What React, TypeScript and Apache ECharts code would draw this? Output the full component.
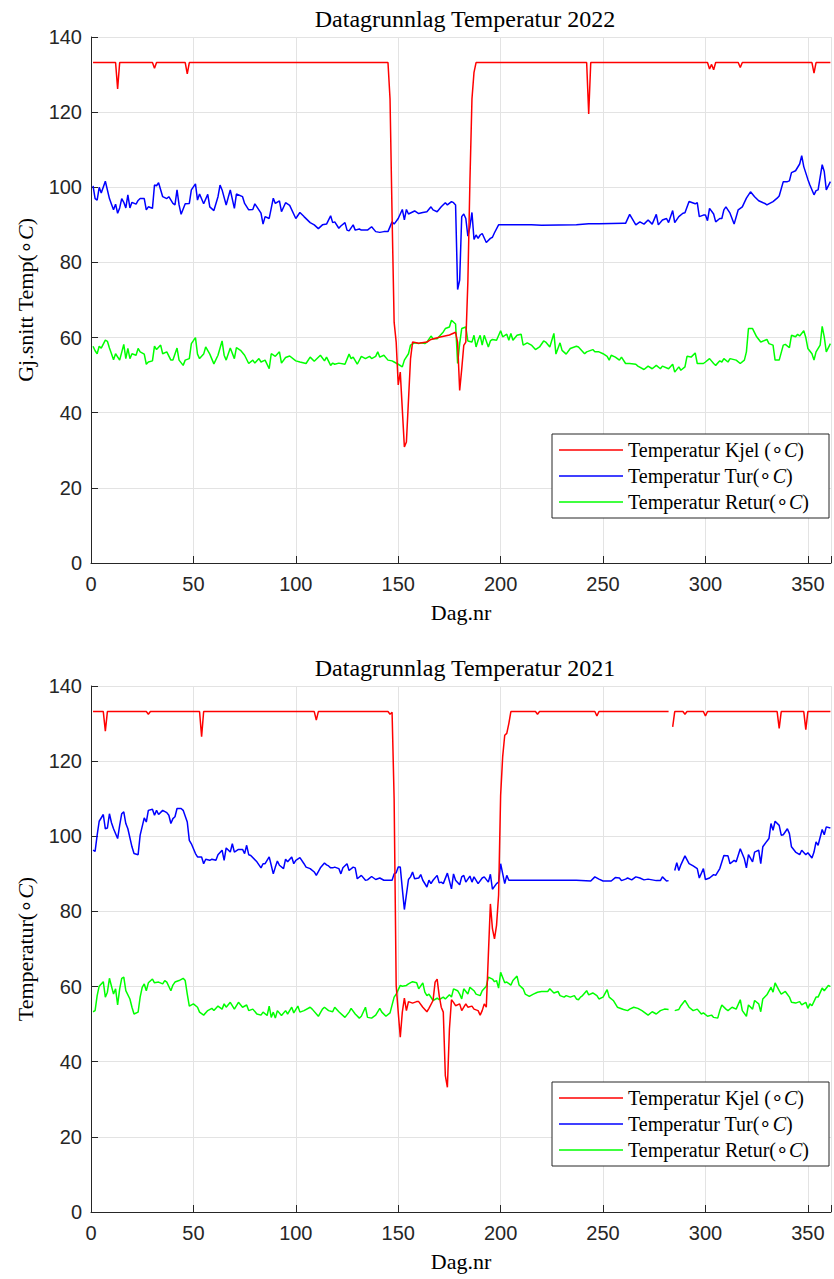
import React, { useEffect, useRef } from "react";
import * as echarts from "echarts";

// ---------- data (day number, value) ----------
const kjel2022: (number | null)[][] = [
  [1,133.2],[12,133.2],[13,126.2],[14,133.2],[30,133.2],[31,131.7],[32,133.2],[46,133.2],[47,130.2],[48,133.2],
  [145,133.2],[146,123.5],[147,92.4],[148,64.1],[149,58.8],[150,47.4],[151,50.8],[153,30.9],[154,32.2],[156,54.3],
  [157,58.8],[160,58.5],[164,58.8],[166,59.5],[170,60.1],[175,60.7],[178,61.4],[179,58.7],[180,45.9],[181,51.6],
  [182,57.9],[183,58.8],[184,74.8],[185,101.4],[186,123.5],[187,130.6],[188,133.2],[242,133.2],[243,119.5],[244,133.2],
  [301,133.2],[302,131.5],[303,132.7],[304,131.3],[305,133.2],[316,133.2],[317,131.9],[318,133.2],[352,133.2],[353,130.4],
  [354,133.2],[361,133.2]
];

const tur2022: (number | null)[][] = [
  [1,100.4],[2,97],[3,96.6],[4,100],[5,98.5],[7,101.6],[9,97],[10,95.5],[11,94],[12,95.5],[13,93.1],[14,94.5],[15,97],
  [16,96],[17,94.5],[18,98],[19,94.5],[20,96],[22,95.5],[23,96.5],[24,97],[26,97],[27,94],[28,94.8],[30,94.4],[31,100.6],
  [32,100.4],[33,101.2],[35,97.5],[37,97],[38,97.5],[40,95.7],[41,95.3],[42,99.3],[43,95.3],[44,92.8],[46,95.6],[48,95.7],
  [49,99.3],[51,100.9],[52,96.6],[53,98.2],[55,95.6],[57,98.1],[58,94.8],[60,93.8],[62,97.5],[63,100.6],[64,99.3],[66,95.3],
  [68,99.3],[70,94.4],[71,98.2],[74,97.5],[75,95.7],[77,94],[79,94.1],[80,95.6],[81,94.8],[83,93.1],[84,90.2],[85,92.2],
  [87,91.7],[89,97.1],[90,95.7],[92,96.4],[93,93.5],[95,95.9],[97,95.2],[100,91.7],[102,93.3],[104,92.2],[107,90.6],[109,90],
  [111,89],[113,90],[115,90.2],[117,92.4],[118,90.6],[119,90.8],[121,89.1],[122,89.7],[124,90.6],[125,88.6],[126,88.4],
  [128,90],[129,88.6],[131,88.9],[132,88.6],[135,88.6],[137,89.5],[139,88.2],[141,88],[143,88.2],[145,88.2],[147,90.8],
  [148,90.2],[150,91.7],[152,94.1],[153,91.3],[154,94.1],[155,92.9],[158,93.7],[160,93],[162,93.3],[164,93.5],[166,94.8],
  [167,94],[169,93.5],[171,94.8],[173,95.9],[174,95.3],[176,96.2],[177,95.9],[178,95.3],[179,72.8],[180,75.3],[181,92.2],
  [182,92.9],[183,91.7],[184,87],[185,89.5],[186,93.3],[187,86.1],[188,87.3],[189,86.4],[190,87.3],[191,87.7],[193,85.3],
  [195,86.4],[196,86.7],[197,87.9],[199,90],[215,90],[220,89.9],[237,90],[243,90.3],[248,90.3],[260,90.4],[261,90.4],
  [263,92.8],[266,90],[268,90.8],[270,90.2],[272,91.3],[274,90.2],[276,92.8],[277,90],[279,91.3],[281,91.7],[282,90.6],
  [284,93.8],[285,90.6],[287,92.2],[289,93.1],[290,93.2],[292,96.2],[295,95.6],[296,95.9],[297,92.2],[299,92.6],[300,92.6],
  [301,91.1],[302,94.4],[304,92.9],[305,90.8],[307,91.7],[308,91.7],[309,94],[310,94.8],[312,93.1],[314,90.2],[316,94],
  [318,94.8],[320,97.1],[322,98.8],[324,97.5],[326,96.4],[329,95.7],[330,95.3],[333,96.2],[335,97.1],[336,97.7],[338,101.5],
  [340,101.5],[341,101.7],[342,103.9],[344,104.4],[346,106.2],[347,108.4],[348,105.5],[350,102.1],[351,100.6],[353,98],
  [354,99.1],[355,99.3],[357,106],[358,104.2],[359,99.3],[361,101.5]
];

const retur2022: (number | null)[][] = [
  [1,57.7],[2,56.5],[3,55.7],[4,57.7],[5,57.2],[7,59.3],[8,59],[9,57.2],[10,55.7],[11,54.1],[12,55.7],[14,54],[16,58.2],
  [17,54.4],[18,57.1],[19,54.4],[20,55.7],[22,55.3],[23,57.1],[24,56.2],[26,55.6],[27,52.9],[28,53.5],[30,53.8],[31,57.7],
  [32,56.8],[34,58],[35,55.7],[37,56.2],[39,54],[40,54],[42,57.2],[43,54],[45,52.6],[46,54],[48,54.4],[49,58.4],[51,60],
  [52,55.6],[53,54.4],[55,55.6],[56,57.5],[58,55.6],[60,53],[62,55.3],[64,59.1],[65,55.3],[66,54],[68,57.2],[70,54.4],
  [71,57.3],[73,56.6],[75,55.3],[77,53.1],[79,54],[80,53.2],[82,54.4],[83,53.5],[85,54],[87,51.7],[88,55.7],[90,55],
  [92,56.2],[93,53.2],[95,54.7],[97,55.1],[100,53.8],[102,53.5],[105,53.1],[107,54.8],[109,53.7],[112,55.3],[114,53.8],
  [115,54.8],[117,52.6],[118,53.2],[119,52.9],[121,53.2],[124,52.9],[126,55.6],[127,54.4],[128,54.8],[130,52.9],[132,55],
  [134,54.4],[136,55],[137,54.4],[139,55],[140,56.2],[141,54.8],[143,55.3],[145,54],[147,53.8],[148,53.5],[150,52.9],
  [152,52.2],[153,54],[155,55.7],[156,58],[158,58.6],[160,58.4],[161,58.6],[163,58.4],[164,58.8],[166,60.4],[167,59.7],
  [169,59.7],[171,60.9],[172,61.5],[173,62.4],[175,62.8],[176,64.6],[178,63.6],[179,53.1],[180,58.4],[181,62.4],[183,62.8],
  [184,59.1],[186,58.8],[187,60.6],[188,57.5],[189,59.3],[190,60.6],[191,58],[192,60.6],[194,57.5],[195,59.1],[196,59.5],
  [198,59.3],[200,61.8],[201,60.2],[203,60.9],[204,59.3],[205,61.1],[206,59.3],[208,60.6],[210,60.9],[211,58],[213,58.6],
  [215,58],[217,56.8],[219,57.5],[221,59.1],[222,58.8],[224,57.5],[226,61.1],[227,55.6],[229,58.6],[230,56.6],[232,55.6],
  [234,57.1],[237,57.7],[238,57.5],[241,55.7],[242,56.2],[245,56.8],[246,56.2],[248,56.2],[250,55.7],[252,55],[253,54],
  [254,55.3],[256,54.8],[258,54],[259,54.8],[261,53.1],[263,53.1],[266,52.9],[267,52.4],[270,51.5],[272,52.4],[274,51.7],
  [276,52.6],[278,51.7],[279,52.4],[282,51.7],[284,52.9],[285,50.8],[287,52.2],[288,51.3],[290,52.2],[291,55],[293,54.8],
  [295,55.9],[296,53.1],[299,53.1],[300,53.5],[302,54.4],[304,53.1],[305,52.6],[307,53.8],[308,53.5],[309,54.4],[311,53.5],
  [312,54.4],[315,54],[317,53.1],[319,54],[320,56.2],[321,62.4],[323,62.4],[325,60.2],[327,58.8],[330,59.5],[331,58.4],
  [333,58],[334,54],[336,54],[338,58],[339,58.2],[341,57.3],[342,60.6],[344,60.2],[345,60.9],[346,60.4],[348,61.8],[349,60],
  [350,57.1],[352,55.7],[353,54],[354,56.2],[356,58],[357,63],[358,60.2],[359,56.2],[361,58.4]
];

const kjel2021: (number | null)[][] = [
  [1,133.2],[6,133.2],[7,128],[8,133.2],[27,133.2],[28,132.5],[29,133.2],[53,133.2],[54,126.5],[55,133.2],[109,133.2],
  [110,130.9],[111,133.2],[145,133.2],[146,132.5],[147,133],[148,110],[149,60.3],[150,53.2],[151,46.5],[152,53.2],
  [153,56.9],[154,53.6],[155,56],[157,55.6],[159,56],[160,56],[162,54.5],[164,53.3],[165,54.2],[167,56.3],[168,61.2],
  [169,62],[170,57.6],[171,54.5],[172,53.2],[173,36.3],[174,33.2],[175,48.7],[176,56.5],[177,55.8],[178,54.9],[180,55.4],
  [181,53.6],[183,55.4],[184,54.5],[186,54.8],[187,54],[189,53.6],[190,52.4],[191,53.6],[192,55.4],[193,54.5],[194,68.3],
  [195,82],[196,75.4],[197,72.7],[198,76.3],[199,84.3],[200,110.9],[201,121.2],[202,126.9],[203,127.4],[204,130],
  [205,133.2],[217,133.2],[218,132.5],[219,133.2],[246,133.2],[247,132],[248,133.2],[282,133.2],[283,null],[284,129.1],
  [285,133.2],[289,133.2],[290,132.5],[291,133.2],[299,133.2],[300,132],[301,133.2],[335,133.2],[336,128.7],[337,133.2],
  [348,133.2],[349,128.4],[350,133.2],[361,133.2]
];

const tur2021: (number | null)[][] = [
  [1,96.3],[2,96],[3,100.3],[4,104],[6,105.8],[7,102],[8,102.2],[9,106],[10,103.6],[11,102],[13,99.4],[14,102.9],[15,106],
  [16,106.5],[17,103.4],[18,102],[20,97.2],[21,95.4],[23,95.1],[24,100.3],[26,104.9],[27,103.8],[28,106.9],[30,107.2],
  [31,105.6],[32,106.9],[33,105.8],[35,106.9],[37,106.3],[38,105.6],[39,103.4],[40,104.7],[41,105.2],[42,107.4],[44,107.4],
  [45,106.9],[47,103.8],[48,98.9],[49,98],[51,95.4],[52,94.5],[54,94.5],[55,92.7],[56,93.9],[58,93.6],[59,93.9],[61,93.6],
  [62,95.1],[64,96.3],[65,93.6],[66,96.9],[68,95.8],[69,98],[70,95.8],[72,96.5],[74,96.5],[75,95.4],[76,97.6],[77,95.1],
  [78,94.9],[81,93.2],[83,91.6],[84,92.7],[85,92.7],[87,94.5],[88,92.3],[89,90],[90,91.8],[91,93.4],[92,92.3],[94,91.4],
  [95,93.9],[96,93.2],[98,94.5],[99,92.7],[100,93.6],[102,94.3],[104,92.7],[105,91.8],[107,91.4],[109,90.5],[110,89.6],
  [112,91.6],[114,92.9],[115,92.4],[116,92.1],[117,91.6],[118,91.6],[119,91.8],[121,91.4],[122,90],[123,91.6],[125,92.7],
  [126,90.9],[128,91.8],[129,91.6],[130,88.7],[132,89.6],[134,88.3],[135,88.4],[137,89.3],[139,88.5],[141,88.9],[143,88.3],
  [145,88.3],[147,88.3],[148,90],[149,90.3],[150,91.8],[151,91.8],[152,86],[153,80.5],[155,88.5],[156,89.2],[157,90.5],
  [158,88.7],[160,88.9],[161,89.8],[162,88.3],[164,86.5],[165,88.3],[166,87.4],[167,88.3],[169,89.6],[170,87.6],[171,87.8],
  [172,87.4],[174,90.2],[176,86],[177,90],[178,88.3],[180,87.1],[181,89.2],[182,89.6],[183,87.8],[185,89.4],[186,87.8],
  [187,89.2],[189,87.4],[191,88.9],[192,89.2],[194,87.8],[195,89.9],[196,85.9],[198,87.4],[199,87.8],[200,92.7],[202,87.4],
  [203,89.6],[204,88.3],[205,88.3],[237,88.3],[244,88.1],[246,89.2],[248,88.6],[250,88.1],[254,88.1],[256,89],[258,88.9],
  [259,88.2],[261,88.6],[262,88.9],[264,88.4],[266,89.2],[268,88.9],[270,88.4],[272,88.6],[276,88.2],[278,88.2],[279,89.2],
  [281,88.1],[282,88.2],[283,null],[285,90.9],[286,93],[287,90.9],[288,92.4],[290,94.8],[292,92.7],[294,92.1],[296,91.4],
  [297,88.9],[299,91.4],[300,88.5],[302,88.9],[304,89.8],[305,89.6],[307,91.4],[309,94.9],[310,94.8],[311,94.8],[312,92.7],
  [314,93.6],[315,93.2],[317,96.7],[319,94],[320,91.6],[321,95.1],[323,93.2],[324,95.8],[326,96.3],[327,92.7],[328,97.2],
  [330,98.7],[331,99.4],[332,103.4],[333,101.6],[334,104],[336,102.9],[337,100.3],[338,100.4],[340,102],[341,100.7],
  [342,97.2],[344,95.8],[346,95.1],[347,96.3],[349,95.1],[350,95.6],[352,94.2],[353,95.8],[354,98.5],[355,97.6],[357,101.8],
  [358,100.4],[359,102.5],[361,102.2]
];

const retur2021: (number | null)[][] = [
  [1,53.3],[2,53.6],[3,57.6],[4,60.1],[6,61.3],[7,57.2],[8,58.5],[9,62.2],[11,58],[12,59.4],[13,55.1],[14,59.4],[15,62.2],
  [16,62.5],[17,58.9],[19,56.7],[20,54.5],[21,52.7],[23,53.2],[24,57.2],[25,59.8],[26,60.7],[27,58.9],[28,61],[30,62],
  [31,61],[33,61.2],[35,60.7],[36,61.6],[37,61.2],[39,58.9],[40,60.4],[41,61.2],[43,61.6],[45,62.2],[46,61.6],[47,58],
  [48,54.8],[50,55.4],[52,54.5],[53,53.2],[55,52.4],[57,53.6],[59,54.2],[60,53.6],[62,54.8],[64,54],[65,55.4],[66,54.5],
  [68,55.8],[70,54],[72,55.8],[74,54.5],[76,55.1],[77,53.6],[79,54],[81,52.7],[83,52.4],[84,53.2],[86,52.3],[87,54.8],
  [88,51.8],[89,53.2],[90,51.6],[91,53.6],[93,52.3],[95,53.6],[96,52.7],[98,54.5],[99,53],[101,54.8],[102,53.2],[104,53.6],
  [107,54.5],[108,54],[111,52.1],[113,54],[114,54.5],[116,53.6],[118,53.3],[119,54.5],[121,53.3],[124,51.8],[126,53.2],
  [127,54.2],[129,52.7],[131,51.6],[132,52.1],[134,54.5],[135,51.8],[137,51.6],[139,52.4],[141,54.2],[142,53.2],[144,52.1],
  [146,53],[148,57.2],[149,58],[151,60.3],[152,60.1],[154,60.3],[155,60.7],[157,61.3],[159,61],[160,59.4],[162,61],
  [163,58.5],[164,57.6],[165,58],[167,56.3],[169,56.9],[170,56.5],[172,57.2],[173,56.7],[175,57.8],[176,57.2],[177,59.4],
  [179,58.9],[180,58],[181,56.7],[182,59.4],[184,58],[185,59.8],[187,58.9],[188,58],[190,57.6],[191,58.9],[193,60.1],
  [194,62.5],[196,62],[197,61.3],[198,61.6],[199,59.6],[200,63.8],[202,61],[203,61.2],[205,60.4],[206,61.6],[208,62.8],
  [209,60.4],[211,59.4],[212,58],[214,57.4],[216,58],[218,58.5],[220,58.7],[223,58.7],[224,59.4],[226,58.3],[228,58.7],
  [229,57.6],[231,57.2],[232,57.6],[234,57.2],[236,57.6],[237,56.7],[238,56.5],[239,57.2],[240,57.6],[242,58.9],[243,57.8],
  [245,58.3],[247,57.6],[248,56.7],[250,57.2],[252,59.2],[253,57.2],[255,56.3],[257,54.5],[260,53.9],[262,53.6],[263,54],
  [265,54.5],[267,54.2],[269,53.6],[270,53.2],[272,52.4],[274,53.3],[276,52.7],[278,53.6],[280,54],[282,53.9],[283,null],
  [285,53.6],[287,53.9],[288,54.9],[290,56.3],[292,54.5],[294,53.6],[296,54],[298,52.7],[299,53],[301,52.1],[303,52.4],
  [304,51.8],[306,51.6],[307,53.6],[308,55.1],[310,54],[311,53.6],[313,54.5],[315,54],[317,56.5],[318,53.6],[320,52.1],
  [321,55.1],[323,54],[324,56.3],[326,55.4],[327,53.3],[328,56.7],[330,57.8],[332,59.8],[333,58.5],[334,61],[336,58.9],
  [337,58],[339,58.7],[341,57.2],[342,55.8],[344,55.6],[346,56],[347,55.1],[349,55.8],[350,54.2],[351,55.4],[352,54.9],
  [354,57.2],[355,57.2],[357,59.6],[358,58.9],[360,60.3],[361,60]
];

const seriesNames = ["Temperatur Kjel (∘C)", "Temperatur Tur(∘C)", "Temperatur Retur(∘C)"];
const seriesColors = ["#ff0000", "#0000ff", "#00ff00"];
const titles = ["Datagrunnlag Temperatur 2022", "Datagrunnlag Temperatur 2021"];
const yNames = ["Gj.snitt Temp(∘{i|C})", "Temperatur(∘{i|C})"];
const xName = "Dag.nr";
const yTicks = { min: 0, max: 140, interval: 20 };
const xTicks = { min: 0, max: 361.3, interval: 50 };

const SERIF = '"Liberation Serif", "Times New Roman", serif';
const SANS = '"Liberation Sans", Arial, Helvetica, sans-serif';
const AX = "#262626";

export default function App() {
  const ref = useRef<HTMLDivElement>(null);
  useEffect(() => {
    if (!ref.current) return;
    const chart = echarts.init(ref.current, null, { renderer: "svg" });
    const tops = [37, 686];
    const H = 526;
    const italicRich = (size: number) => ({
      i: { fontStyle: "italic", fontFamily: SERIF, fontSize: size, color: "#000" },
    });
    const grids = tops.map((t) => ({ left: 91, top: t, width: 743, height: H, containLabel: false }));
    const xAxes = tops.map((_, i) => ({
      type: "value",
      gridIndex: i,
      min: xTicks.min,
      max: xTicks.max,
      interval: xTicks.interval,
      name: xName,
      nameLocation: "middle",
      nameGap: 38,
      nameTextStyle: { fontFamily: SERIF, fontSize: 22, color: "#000" },
      axisLine: { show: true, lineStyle: { color: AX, width: 1 } },
      axisTick: { show: true, inside: true, length: 7, lineStyle: { color: AX } },
      axisLabel: {
        fontFamily: SANS,
        fontSize: 20,
        color: AX,
        margin: 11,
        formatter: (v: number) => (v % 50 === 0 ? String(v) : ""),
      },
      splitLine: { show: true, lineStyle: { color: "#e3e3e3", width: 1 } },
    }));
    const yAxes = tops.map((_, i) => ({
      type: "value",
      gridIndex: i,
      min: yTicks.min,
      max: yTicks.max,
      interval: yTicks.interval,
      name: yNames[i],
      nameLocation: "middle",
      nameGap: 55,
      nameTextStyle: { fontFamily: SERIF, fontSize: 22, color: "#000", rich: italicRich(22) },
      axisLine: { show: true, lineStyle: { color: AX, width: 1 } },
      axisTick: { show: true, inside: true, length: 7, lineStyle: { color: AX } },
      axisLabel: { fontFamily: SANS, fontSize: 20, color: AX, margin: 9 },
      splitLine: { show: true, lineStyle: { color: "#e3e3e3", width: 1 } },
    }));
    const datasets = [
      [kjel2022, tur2022, retur2022],
      [kjel2021, tur2021, retur2021],
    ];
    const series: any[] = [];
    datasets.forEach((set, gi) => {
      set.forEach((d, si) => {
        series.push({
          type: "line",
          name: seriesNames[si],
          xAxisIndex: gi,
          yAxisIndex: gi,
          data: d,
          symbol: "none",
          showSymbol: false,
          connectNulls: false,
          color: seriesColors[si],
          itemStyle: { color: seriesColors[si] },
          lineStyle: { color: seriesColors[si], width: 1.5 },
          z: 3 - si,
        });
      });
    });
    const legends = [434, 1082].map((t) => ({
      orient: "vertical",
      left: 552,
      top: t,
      data: seriesNames,
      icon: "rect",
      itemWidth: 64,
      itemHeight: 1.5,
      itemGap: 6,
      padding: [6, 7, 6, 7],
      borderColor: AX,
      borderWidth: 1,
      backgroundColor: "#ffffff",
      selectedMode: false,
      formatter: (n: string) => n.replace("C)", "{i|C})"),
      textStyle: {
        fontFamily: SERIF,
        fontSize: 20,
        color: "#000",
        lineHeight: 18,
        width: 194,
        rich: { i: { fontStyle: "italic", fontFamily: SERIF, fontSize: 20, color: "#000", lineHeight: 18 } },
      },
    }));
    const graphic = titles.map((t, i) => ({
      type: "text",
      x: 465,
      y: tops[i] - 18,
      style: {
        text: t,
        fontFamily: SERIF,
        fontSize: 24,
        fill: "#000",
        textAlign: "center",
        textVerticalAlign: "middle",
        align: "center",
        verticalAlign: "middle",
      },
    }));
    chart.setOption({
      animation: false,
      backgroundColor: "#ffffff",
      grid: grids,
      xAxis: xAxes,
      yAxis: yAxes,
      legend: legends,
      graphic,
      series,
    });
    return () => chart.dispose();
  }, []);
  return (
    <div
      ref={ref}
      style={{ position: "absolute", left: 0, top: 0, width: 834, height: 1279, background: "#fff" }}
    />
  );
}
